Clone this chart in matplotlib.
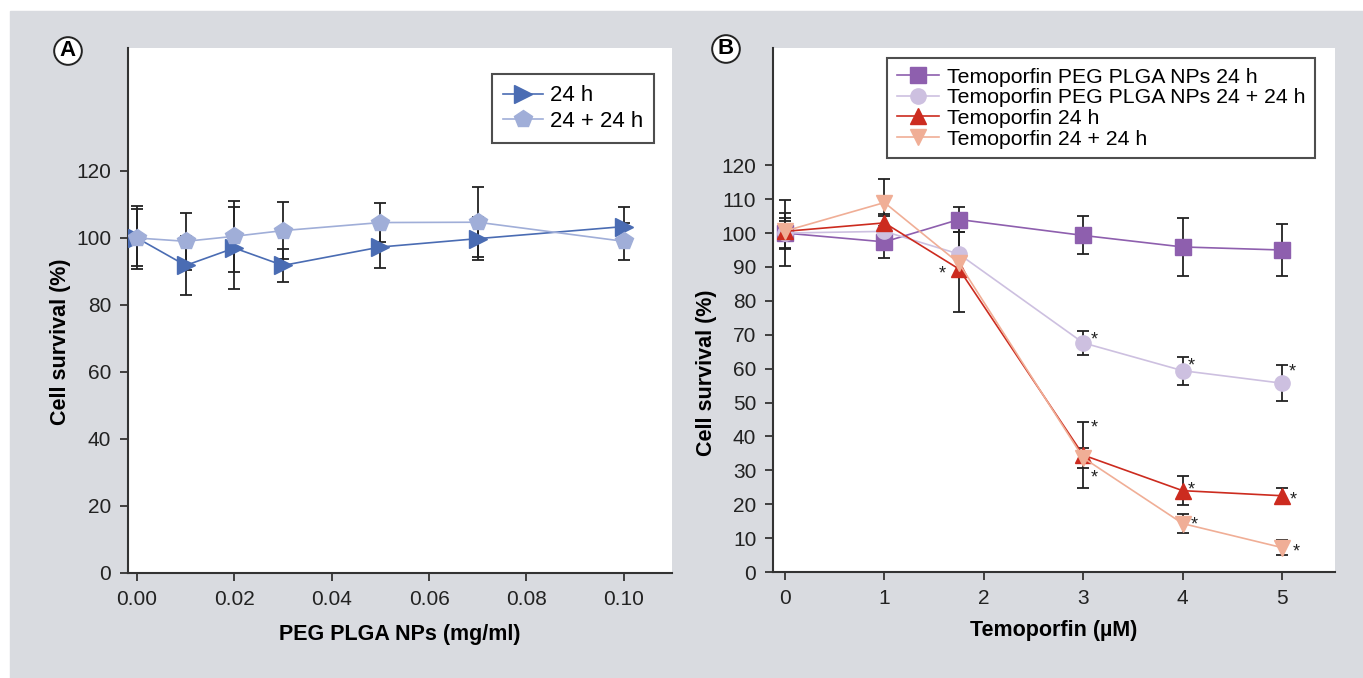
import matplotlib
matplotlib.use("Agg")
import matplotlib.pyplot as plt
from matplotlib.patches import Rectangle

plt.rcParams["font.family"] = ["Liberation Sans", "DejaVu Sans"]

# panel A: PEG PLGA NPs alone
conc_np = [0.0, 0.01, 0.02, 0.03, 0.05, 0.07, 0.10]
np_24 = [100.0, 91.8, 97.0, 91.8, 97.3, 99.8, 103.4]
np_24_err = [9.4, 8.9, 12.2, 5.0, 6.4, 6.4, 5.7]
np_48 = [100.0, 99.0, 100.5, 102.2, 104.6, 104.7, 99.0]
np_48_err = [8.5, 8.6, 10.6, 8.6, 5.8, 10.5, 5.6]

# panel B: temoporfin
conc_t = [0.0, 1.0, 1.75, 3.0, 4.0, 5.0]
nps_24 = [100.0, 97.4, 104.0, 99.3, 95.9, 95.0]
nps_24_err = [9.7, 4.8, 3.8, 5.6, 8.6, 7.6]
nps_48 = [100.0, 100.5, 93.8, 67.6, 59.4, 55.7]
nps_48_err = [4.5, 4.5, 6.6, 3.6, 4.1, 5.3]
free_24 = [100.5, 103.0, 89.4, 34.5, 24.0, 22.5]
free_24_err = [5.3, 2.5, 12.8, 9.7, 4.3, 2.2]
free_48 = [100.6, 109.0, 91.1, 33.7, 14.3, 7.2]
free_48_err = [3.0, 7.0, 4.0, 2.9, 2.8, 2.2]

GRAY = "#d9dbe0"
SPINE = "#333333"

fig = plt.figure(figsize=(13.63, 6.78), dpi=100)
fig.patches.append(Rectangle((10 / 1363, 0), 1, 1 - 11 / 678,
                             transform=fig.transFigure, color=GRAY, zorder=-10))

W, H = 1363, 678
axA = fig.add_axes([128 / W, 105 / H, 544 / W, 525 / H])
axB = fig.add_axes([773 / W, 106 / H, 562 / W, 524 / H])


def style(ax):
    ax.spines["top"].set_visible(False)
    ax.spines["right"].set_visible(False)
    for s in ("left", "bottom"):
        ax.spines[s].set_color(SPINE)
        ax.spines[s].set_linewidth(1.5)
    ax.tick_params(direction="out", length=6, width=1.3, color=SPINE,
                   labelsize=15, labelcolor="#222222", pad=6)


def series(ax, x, y, err, color, marker, ms, label):
    ax.errorbar(x, y, yerr=err, fmt="none", ecolor="#222222", elinewidth=1.3,
                capsize=4.5, capthick=1.3, zorder=2)
    ax.plot(x, y, color=color, marker=marker, markersize=ms, lw=1.2,
            markeredgecolor=color, label=label, zorder=3)


def frame(leg):
    leg.get_frame().set_edgecolor("#222222")
    leg.get_frame().set_linewidth(1.5)


# ---- A ----
style(axA)
series(axA, conc_np, np_24, np_24_err, "#4a6cb3", ">", 13, "24 h")
series(axA, conc_np, np_48, np_48_err, "#a0aed8", "p", 13, "24 + 24 h")
axA.set_xlim(-0.00185, 0.1099)
axA.set_ylim(0, 156.7)
axA.set_xticks([0, 0.02, 0.04, 0.06, 0.08, 0.10])
axA.set_xticklabels(["0.00", "0.02", "0.04", "0.06", "0.08", "0.10"])
axA.set_yticks(range(0, 121, 20))
axA.set_xlabel("PEG PLGA NPs (mg/ml)", fontsize=15.5, fontweight="bold", labelpad=11)
axA.set_ylabel("Cell survival (%)", fontsize=15.5, fontweight="bold")
axA.yaxis.set_label_coords(-0.105, 0.44)
legA = axA.legend(loc="upper right", bbox_to_anchor=(0.967, 0.950), fontsize=16,
                  frameon=True, fancybox=False, borderaxespad=0, handlelength=1.8,
                  labelspacing=0.2, borderpad=0.5, handletextpad=0.3)
frame(legA)

# ---- B ----
style(axB)
series(axB, conc_t, nps_24, nps_24_err, "#8e5fae", "s", 12, "Temoporfin PEG PLGA NPs 24 h")
series(axB, conc_t, nps_48, nps_48_err, "#cdc0e0", "o", 11, "Temoporfin PEG PLGA NPs 24 + 24 h")
series(axB, conc_t, free_24, free_24_err, "#cc2b1f", "^", 11, "Temoporfin 24 h")
series(axB, conc_t, free_48, free_48_err, "#f0ae96", "v", 11, "Temoporfin 24 + 24 h")
axB.set_xlim(-0.121, 5.533)
axB.set_ylim(0, 154.6)
axB.set_xticks(range(0, 6))
axB.set_yticks(range(0, 121, 10))
axB.set_xlabel("Temoporfin (\u00b5M)", fontsize=15.5, fontweight="bold", labelpad=9)
axB.set_ylabel("Cell survival (%)", fontsize=15.5, fontweight="bold")
axB.yaxis.set_label_coords(-0.100, 0.38)
legB = axB.legend(loc="upper right", bbox_to_anchor=(0.964, 0.981), fontsize=15.3,
                  frameon=True, fancybox=False, borderaxespad=0, handlelength=2.0,
                  labelspacing=0.08, borderpad=0.45, handletextpad=0.35)
frame(legB)

# significance stars: (x, y, offset in pixels)
stars = [
    (1.75, free_24[2], (-17, -5)),
    (3.0, nps_48[3], (11, 3)),
    (4.0, nps_48[4], (9, 5)),
    (5.0, nps_48[5], (10, 11)),
    (3.0, free_24[3] + free_24_err[3], (11, -6)),
    (3.0, free_48[3], (11, -20)),
    (4.0, free_24[4], (9, 1)),
    (5.0, free_24[5], (11, -4)),
    (4.0, free_48[4], (12, -1)),
    (5.0, free_48[5], (14, -4)),
]
for x, y, off in stars:
    axB.annotate("*", (x, y), xytext=off, textcoords="offset pixels",
                 ha="center", va="center", fontsize=13, color="#222222")

for label, px, py in (("A", 68, 51), ("B", 726, 49)):
    fig.text(px / W, 1 - py / H, label, ha="center", va="center", fontsize=16,
             fontweight="bold",
             bbox=dict(boxstyle="circle,pad=0.15", fc="white", ec="#222222", lw=1.4))

fig.savefig("out.png", dpi=100)
